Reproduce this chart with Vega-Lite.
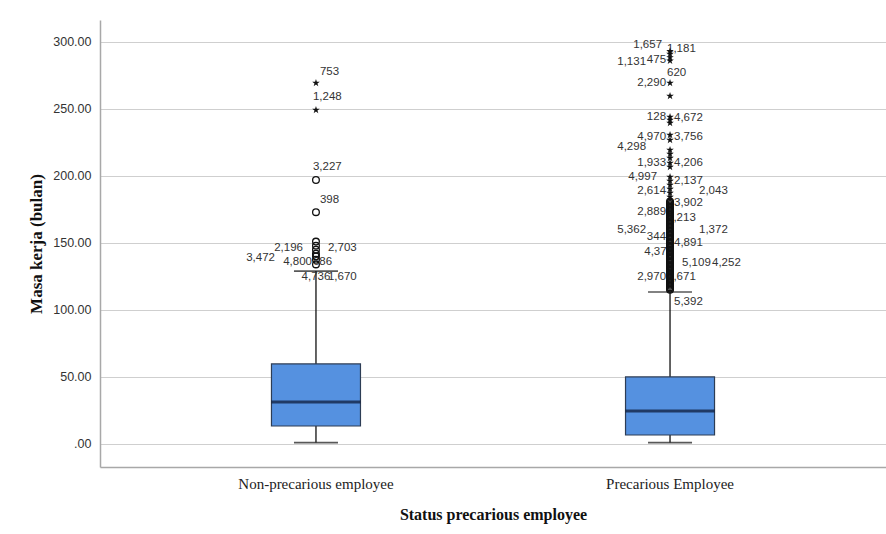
{
  "$schema": "https://vega.github.io/schema/vega-lite/v6.json",
  "autosize": {"type": "none"},
  "padding": {"left": 100, "top": 20, "right": 0, "bottom": 67},
  "width": 786,
  "height": 447,
  "background": "white",
  "config": {
    "view": {"stroke": null},
    "axis": {"domainColor": "#a8a8a8", "domainWidth": 1.5, "ticks": false, "gridColor": "#cfcfcf", "gridWidth": 1}
  },
  "datasets": {
    "boxes": [
      {"group": "Non-precarious employee", "min": 1, "q1": 13.4, "median": 31.3, "q3": 59.7, "max": 129},
      {"group": "Precarious Employee", "min": 1, "q1": 6.7, "median": 24.6, "q3": 50, "max": 113.4}
    ],
    "outliers": [
      {"group": "Non-precarious employee", "value": 269.4, "kind": "extreme"},
      {"group": "Non-precarious employee", "value": 249.3, "kind": "extreme"},
      {"group": "Non-precarious employee", "value": 197, "kind": "outlier"},
      {"group": "Non-precarious employee", "value": 173, "kind": "outlier"},
      {"group": "Non-precarious employee", "value": 151, "kind": "outlier"},
      {"group": "Non-precarious employee", "value": 148, "kind": "outlier"},
      {"group": "Non-precarious employee", "value": 145, "kind": "outlier"},
      {"group": "Non-precarious employee", "value": 142, "kind": "outlier"},
      {"group": "Non-precarious employee", "value": 140, "kind": "outlier"},
      {"group": "Non-precarious employee", "value": 137.5, "kind": "outlier"},
      {"group": "Non-precarious employee", "value": 134, "kind": "outlier"},
      {"group": "Precarious Employee", "value": 293, "kind": "extreme"},
      {"group": "Precarious Employee", "value": 291, "kind": "extreme"},
      {"group": "Precarious Employee", "value": 288.5, "kind": "extreme"},
      {"group": "Precarious Employee", "value": 286, "kind": "extreme"},
      {"group": "Precarious Employee", "value": 269.4, "kind": "extreme"},
      {"group": "Precarious Employee", "value": 259.7, "kind": "extreme"},
      {"group": "Precarious Employee", "value": 244, "kind": "extreme"},
      {"group": "Precarious Employee", "value": 241.8, "kind": "extreme"},
      {"group": "Precarious Employee", "value": 239.6, "kind": "extreme"},
      {"group": "Precarious Employee", "value": 230.6, "kind": "extreme"},
      {"group": "Precarious Employee", "value": 226.9, "kind": "extreme"},
      {"group": "Precarious Employee", "value": 219.4, "kind": "extreme"},
      {"group": "Precarious Employee", "value": 216.4, "kind": "extreme"},
      {"group": "Precarious Employee", "value": 213.4, "kind": "extreme"},
      {"group": "Precarious Employee", "value": 209.7, "kind": "extreme"},
      {"group": "Precarious Employee", "value": 206.7, "kind": "extreme"},
      {"group": "Precarious Employee", "value": 199.3, "kind": "extreme"},
      {"group": "Precarious Employee", "value": 196.3, "kind": "extreme"},
      {"group": "Precarious Employee", "value": 193.3, "kind": "extreme"},
      {"group": "Precarious Employee", "value": 190.3, "kind": "extreme"},
      {"group": "Precarious Employee", "value": 187.3, "kind": "extreme"},
      {"group": "Precarious Employee", "value": 184.3, "kind": "extreme"},
      {"group": "Precarious Employee", "value": 181, "kind": "outlier"},
      {"group": "Precarious Employee", "value": 180, "kind": "outlier"},
      {"group": "Precarious Employee", "value": 179, "kind": "outlier"},
      {"group": "Precarious Employee", "value": 178, "kind": "outlier"},
      {"group": "Precarious Employee", "value": 177, "kind": "outlier"},
      {"group": "Precarious Employee", "value": 176, "kind": "outlier"},
      {"group": "Precarious Employee", "value": 175, "kind": "outlier"},
      {"group": "Precarious Employee", "value": 174, "kind": "outlier"},
      {"group": "Precarious Employee", "value": 173, "kind": "outlier"},
      {"group": "Precarious Employee", "value": 172, "kind": "outlier"},
      {"group": "Precarious Employee", "value": 171, "kind": "outlier"},
      {"group": "Precarious Employee", "value": 170, "kind": "outlier"},
      {"group": "Precarious Employee", "value": 169, "kind": "outlier"},
      {"group": "Precarious Employee", "value": 168, "kind": "outlier"},
      {"group": "Precarious Employee", "value": 167, "kind": "outlier"},
      {"group": "Precarious Employee", "value": 166, "kind": "outlier"},
      {"group": "Precarious Employee", "value": 165, "kind": "outlier"},
      {"group": "Precarious Employee", "value": 164, "kind": "outlier"},
      {"group": "Precarious Employee", "value": 163, "kind": "outlier"},
      {"group": "Precarious Employee", "value": 162, "kind": "outlier"},
      {"group": "Precarious Employee", "value": 161, "kind": "outlier"},
      {"group": "Precarious Employee", "value": 160, "kind": "outlier"},
      {"group": "Precarious Employee", "value": 159, "kind": "outlier"},
      {"group": "Precarious Employee", "value": 158, "kind": "outlier"},
      {"group": "Precarious Employee", "value": 157, "kind": "outlier"},
      {"group": "Precarious Employee", "value": 156, "kind": "outlier"},
      {"group": "Precarious Employee", "value": 155, "kind": "outlier"},
      {"group": "Precarious Employee", "value": 154, "kind": "outlier"},
      {"group": "Precarious Employee", "value": 153, "kind": "outlier"},
      {"group": "Precarious Employee", "value": 152, "kind": "outlier"},
      {"group": "Precarious Employee", "value": 151, "kind": "outlier"},
      {"group": "Precarious Employee", "value": 150, "kind": "outlier"},
      {"group": "Precarious Employee", "value": 149, "kind": "outlier"},
      {"group": "Precarious Employee", "value": 148, "kind": "outlier"},
      {"group": "Precarious Employee", "value": 147, "kind": "outlier"},
      {"group": "Precarious Employee", "value": 146, "kind": "outlier"},
      {"group": "Precarious Employee", "value": 145, "kind": "outlier"},
      {"group": "Precarious Employee", "value": 144, "kind": "outlier"},
      {"group": "Precarious Employee", "value": 143, "kind": "outlier"},
      {"group": "Precarious Employee", "value": 142, "kind": "outlier"},
      {"group": "Precarious Employee", "value": 141, "kind": "outlier"},
      {"group": "Precarious Employee", "value": 140, "kind": "outlier"},
      {"group": "Precarious Employee", "value": 139, "kind": "outlier"},
      {"group": "Precarious Employee", "value": 138, "kind": "outlier"},
      {"group": "Precarious Employee", "value": 137, "kind": "outlier"},
      {"group": "Precarious Employee", "value": 136, "kind": "outlier"},
      {"group": "Precarious Employee", "value": 135, "kind": "outlier"},
      {"group": "Precarious Employee", "value": 134, "kind": "outlier"},
      {"group": "Precarious Employee", "value": 133, "kind": "outlier"},
      {"group": "Precarious Employee", "value": 132, "kind": "outlier"},
      {"group": "Precarious Employee", "value": 131, "kind": "outlier"},
      {"group": "Precarious Employee", "value": 130, "kind": "outlier"},
      {"group": "Precarious Employee", "value": 129, "kind": "outlier"},
      {"group": "Precarious Employee", "value": 128, "kind": "outlier"},
      {"group": "Precarious Employee", "value": 127, "kind": "outlier"},
      {"group": "Precarious Employee", "value": 126, "kind": "outlier"},
      {"group": "Precarious Employee", "value": 125, "kind": "outlier"},
      {"group": "Precarious Employee", "value": 124, "kind": "outlier"},
      {"group": "Precarious Employee", "value": 123, "kind": "outlier"},
      {"group": "Precarious Employee", "value": 122, "kind": "outlier"},
      {"group": "Precarious Employee", "value": 121, "kind": "outlier"},
      {"group": "Precarious Employee", "value": 120, "kind": "outlier"},
      {"group": "Precarious Employee", "value": 119, "kind": "outlier"},
      {"group": "Precarious Employee", "value": 118, "kind": "outlier"},
      {"group": "Precarious Employee", "value": 117, "kind": "outlier"},
      {"group": "Precarious Employee", "value": 116, "kind": "outlier"},
      {"group": "Precarious Employee", "value": 115, "kind": "outlier"}
    ],
    "labels": [
      {"group": "Non-precarious employee", "id": "753", "value": 277.6, "side": "R"},
      {"group": "Non-precarious employee", "id": "1,248", "value": 259, "side": "R0"},
      {"group": "Non-precarious employee", "id": "3,227", "value": 206.7, "side": "R0"},
      {"group": "Non-precarious employee", "id": "398", "value": 182, "side": "R"},
      {"group": "Non-precarious employee", "id": "2,196", "value": 146.3, "side": "LM"},
      {"group": "Non-precarious employee", "id": "2,703", "value": 146.3, "side": "RM"},
      {"group": "Non-precarious employee", "id": "3,472", "value": 138.8, "side": "LX"},
      {"group": "Non-precarious employee", "id": "4,800", "value": 135.8, "side": "L"},
      {"group": "Non-precarious employee", "id": "686", "value": 135.8, "side": "R0"},
      {"group": "Non-precarious employee", "id": "4,736", "value": 124.6, "side": "C"},
      {"group": "Non-precarious employee", "id": "1,670", "value": 124.6, "side": "RM"},
      {"group": "Precarious Employee", "id": "1,657", "value": 297.8, "side": "LS"},
      {"group": "Precarious Employee", "id": "1,181", "value": 294.8, "side": "R0"},
      {"group": "Precarious Employee", "id": "1,131", "value": 285.1, "side": "LL"},
      {"group": "Precarious Employee", "id": "475", "value": 286.6, "side": "L"},
      {"group": "Precarious Employee", "id": "620", "value": 276.9, "side": "R0"},
      {"group": "Precarious Employee", "id": "2,290", "value": 269.4, "side": "L"},
      {"group": "Precarious Employee", "id": "128", "value": 244, "side": "L"},
      {"group": "Precarious Employee", "id": "4,672", "value": 243.3, "side": "R"},
      {"group": "Precarious Employee", "id": "4,970", "value": 229.1, "side": "L"},
      {"group": "Precarious Employee", "id": "3,756", "value": 229.1, "side": "R"},
      {"group": "Precarious Employee", "id": "4,298", "value": 221.6, "side": "LL"},
      {"group": "Precarious Employee", "id": "1,933", "value": 209.7, "side": "L"},
      {"group": "Precarious Employee", "id": "4,206", "value": 209.7, "side": "R"},
      {"group": "Precarious Employee", "id": "4,997", "value": 199.3, "side": "LM"},
      {"group": "Precarious Employee", "id": "2,137", "value": 196.3, "side": "R"},
      {"group": "Precarious Employee", "id": "2,614", "value": 188.8, "side": "L"},
      {"group": "Precarious Employee", "id": "2,043", "value": 188.8, "side": "RR"},
      {"group": "Precarious Employee", "id": "3,902", "value": 179.9, "side": "R"},
      {"group": "Precarious Employee", "id": "2,889", "value": 173.1, "side": "L"},
      {"group": "Precarious Employee", "id": "2,213", "value": 168.7, "side": "R0"},
      {"group": "Precarious Employee", "id": "5,362", "value": 159.7, "side": "LL"},
      {"group": "Precarious Employee", "id": "344", "value": 154.5, "side": "L"},
      {"group": "Precarious Employee", "id": "1,372", "value": 159.7, "side": "RR"},
      {"group": "Precarious Employee", "id": "4,891", "value": 150, "side": "R"},
      {"group": "Precarious Employee", "id": "4,376", "value": 143.3, "side": "L0"},
      {"group": "Precarious Employee", "id": "5,109", "value": 135.1, "side": "RM"},
      {"group": "Precarious Employee", "id": "4,252", "value": 135.1, "side": "RX"},
      {"group": "Precarious Employee", "id": "2,970", "value": 124.6, "side": "L"},
      {"group": "Precarious Employee", "id": "1,671", "value": 124.6, "side": "R0"},
      {"group": "Precarious Employee", "id": "5,392", "value": 106, "side": "R"}
    ]
  },
  "encoding": {
    "x": {
      "field": "group", "type": "nominal",
      "scale": {"type": "band", "domain": ["Non-precarious employee", "Precarious Employee"], "paddingInner": 0, "paddingOuter": 0.11},
      "axis": {
        "title": "Status precarious employee", "labelAngle": 0,
        "labelFont": "Liberation Serif", "labelFontSize": 15, "labelColor": "#222222", "labelPadding": 9,
        "titleFont": "Liberation Serif", "titleFontSize": 16, "titleFontWeight": "bold", "titleColor": "#111111", "titlePadding": 15,
        "grid": false
      }
    }
  },
  "layer": [
    {
      "data": {"name": "boxes"},
      "mark": {"type": "rule", "color": "#111111", "strokeWidth": 1.3},
      "encoding": {
        "y": {
          "field": "min", "type": "quantitative",
          "scale": {"domain": [-17.2, 316.4], "nice": false, "zero": false},
          "axis": {
            "title": "Masa kerja (bulan)", "values": [0, 50, 100, 150, 200, 250, 300],
            "labelExpr": "datum.value == 0 ? '.00' : format(datum.value, '.2f')",
            "labelFont": "Liberation Sans", "labelFontSize": 12.5, "labelColor": "#333333", "labelPadding": 9,
            "titleFont": "Liberation Serif", "titleFontSize": 17, "titleFontWeight": "bold", "titleColor": "#111111", "titlePadding": 7,
            "grid": true
          }
        },
        "y2": {"field": "max"}
      }
    },
    {
      "data": {"name": "boxes"},
      "mark": {"type": "tick", "color": "#111111", "size": 44, "thickness": 1.6},
      "encoding": {"y": {"field": "min", "type": "quantitative"}}
    },
    {
      "data": {"name": "boxes"},
      "mark": {"type": "tick", "color": "#111111", "size": 44, "thickness": 1.6},
      "encoding": {"y": {"field": "max", "type": "quantitative"}}
    },
    {
      "data": {"name": "boxes"},
      "mark": {"type": "bar", "size": 89, "fill": "#5591E0", "stroke": "#2d3d55", "strokeWidth": 1.2},
      "encoding": {"y": {"field": "q1", "type": "quantitative"}, "y2": {"field": "q3"}}
    },
    {
      "data": {"name": "boxes"},
      "mark": {"type": "tick", "color": "#0a1630", "size": 89, "thickness": 3},
      "encoding": {"y": {"field": "median", "type": "quantitative"}}
    },
    {
      "data": {"name": "labels"},
      "transform": [{"filter": "datum.side == 'L'"}],
      "mark": {"type": "text", "align": "right", "baseline": "middle", "dx": -4, "font": "Liberation Sans", "fontSize": 11.5, "color": "#333333"},
      "encoding": {"y": {"field": "value", "type": "quantitative"}, "text": {"field": "id"}}
    },
    {
      "data": {"name": "labels"},
      "transform": [{"filter": "datum.side == 'LS'"}],
      "mark": {"type": "text", "align": "right", "baseline": "middle", "dx": -8, "font": "Liberation Sans", "fontSize": 11.5, "color": "#333333"},
      "encoding": {"y": {"field": "value", "type": "quantitative"}, "text": {"field": "id"}}
    },
    {
      "data": {"name": "labels"},
      "transform": [{"filter": "datum.side == 'L0'"}],
      "mark": {"type": "text", "align": "right", "baseline": "middle", "dx": 3, "font": "Liberation Sans", "fontSize": 11.5, "color": "#333333"},
      "encoding": {"y": {"field": "value", "type": "quantitative"}, "text": {"field": "id"}}
    },
    {
      "data": {"name": "labels"},
      "transform": [{"filter": "datum.side == 'LM'"}],
      "mark": {"type": "text", "align": "right", "baseline": "middle", "dx": -13, "font": "Liberation Sans", "fontSize": 11.5, "color": "#333333"},
      "encoding": {"y": {"field": "value", "type": "quantitative"}, "text": {"field": "id"}}
    },
    {
      "data": {"name": "labels"},
      "transform": [{"filter": "datum.side == 'LL'"}],
      "mark": {"type": "text", "align": "right", "baseline": "middle", "dx": -24, "font": "Liberation Sans", "fontSize": 11.5, "color": "#333333"},
      "encoding": {"y": {"field": "value", "type": "quantitative"}, "text": {"field": "id"}}
    },
    {
      "data": {"name": "labels"},
      "transform": [{"filter": "datum.side == 'LX'"}],
      "mark": {"type": "text", "align": "right", "baseline": "middle", "dx": -41, "font": "Liberation Sans", "fontSize": 11.5, "color": "#333333"},
      "encoding": {"y": {"field": "value", "type": "quantitative"}, "text": {"field": "id"}}
    },
    {
      "data": {"name": "labels"},
      "transform": [{"filter": "datum.side == 'R'"}],
      "mark": {"type": "text", "align": "left", "baseline": "middle", "dx": 4, "font": "Liberation Sans", "fontSize": 11.5, "color": "#333333"},
      "encoding": {"y": {"field": "value", "type": "quantitative"}, "text": {"field": "id"}}
    },
    {
      "data": {"name": "labels"},
      "transform": [{"filter": "datum.side == 'R0'"}],
      "mark": {"type": "text", "align": "left", "baseline": "middle", "dx": -3, "font": "Liberation Sans", "fontSize": 11.5, "color": "#333333"},
      "encoding": {"y": {"field": "value", "type": "quantitative"}, "text": {"field": "id"}}
    },
    {
      "data": {"name": "labels"},
      "transform": [{"filter": "datum.side == 'RM'"}],
      "mark": {"type": "text", "align": "left", "baseline": "middle", "dx": 12, "font": "Liberation Sans", "fontSize": 11.5, "color": "#333333"},
      "encoding": {"y": {"field": "value", "type": "quantitative"}, "text": {"field": "id"}}
    },
    {
      "data": {"name": "labels"},
      "transform": [{"filter": "datum.side == 'RR'"}],
      "mark": {"type": "text", "align": "left", "baseline": "middle", "dx": 29, "font": "Liberation Sans", "fontSize": 11.5, "color": "#333333"},
      "encoding": {"y": {"field": "value", "type": "quantitative"}, "text": {"field": "id"}}
    },
    {
      "data": {"name": "labels"},
      "transform": [{"filter": "datum.side == 'RX'"}],
      "mark": {"type": "text", "align": "left", "baseline": "middle", "dx": 42, "font": "Liberation Sans", "fontSize": 11.5, "color": "#333333"},
      "encoding": {"y": {"field": "value", "type": "quantitative"}, "text": {"field": "id"}}
    },
    {
      "data": {"name": "labels"},
      "transform": [{"filter": "datum.side == 'C'"}],
      "mark": {"type": "text", "align": "center", "baseline": "middle", "dx": 0, "font": "Liberation Sans", "fontSize": 11.5, "color": "#333333"},
      "encoding": {"y": {"field": "value", "type": "quantitative"}, "text": {"field": "id"}}
    },
    {
      "data": {"name": "outliers"},
      "transform": [{"filter": "datum.kind == 'outlier'"}],
      "mark": {"type": "point", "shape": "circle", "filled": false, "stroke": "#111111", "strokeWidth": 1.3, "size": 45, "opacity": 1},
      "encoding": {"y": {"field": "value", "type": "quantitative"}}
    },
    {
      "data": {"name": "outliers"},
      "transform": [{"filter": "datum.kind == 'extreme'"}],
      "mark": {"type": "point", "shape": "M0,-1L0.2245,-0.309L0.951,-0.309L0.363,0.118L0.588,0.809L0,0.382L-0.588,0.809L-0.363,0.118L-0.951,-0.309L-0.2245,-0.309Z", "filled": true, "fill": "#111111", "strokeWidth": 0, "size": 64, "opacity": 1},
      "encoding": {"y": {"field": "value", "type": "quantitative"}}
    }
  ]
}
